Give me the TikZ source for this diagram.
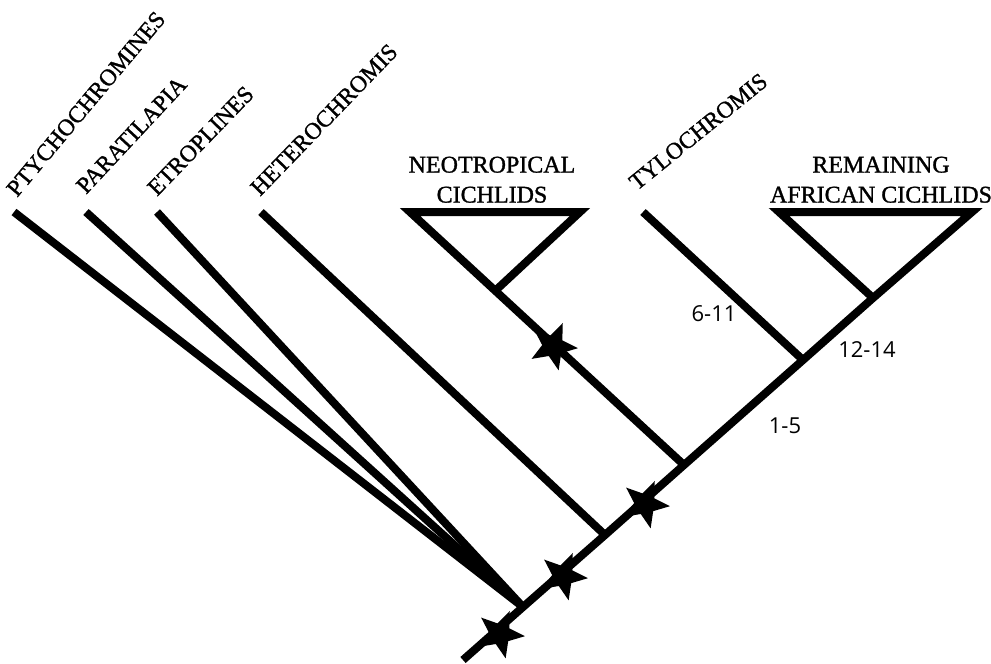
\documentclass[tikz,border=0pt]{standalone}
\usepackage{fontspec}
\setmainfont[FakeBold=1.2]{Liberation Serif}
\newfontfamily\numfont{Open Sans}
\usetikzlibrary{shapes.geometric}
\begin{document}
\begin{tikzpicture}[x=1pt,y=-1pt,
  branch/.style={line width=8pt, line join=miter},
  taxon/.style={font=\fontsize{23.5}{26}\selectfont, inner sep=0pt, anchor=base west},
  clade/.style={font=\fontsize{24}{30}\selectfont, inner sep=0pt, align=center, anchor=south},
  support/.style={font=\numfont\fontsize{22}{24}\selectfont, inner sep=0pt},
  event/.style={star, star points=5, star point ratio=2.3, fill=black, inner sep=0pt, minimum size=50pt, rotate=-23}]
\useasboundingbox (0,0) rectangle (991,664);
% trunk junctions
\coordinate (bot) at (463,660);
\coordinate (root) at (523,607);
\coordinate (hj) at (605,535);
\coordinate (nj) at (684,465);
\coordinate (tj) at (803,360);
\coordinate (aj) at (873,298);
\coordinate (top) at (972,212);
% leaf ends
\coordinate (lPty) at (14,212);
\coordinate (lPar) at (86,212);
\coordinate (lEtr) at (157,212);
\coordinate (lHet) at (261,212);
\coordinate (lTyl) at (643,212);
\coordinate (nl) at (410,212);
\coordinate (nr) at (580,212);
\coordinate (nap) at (495,291);
\coordinate (afl) at (779,212);
% branches
\draw[branch] (bot) -- (root) -- (hj) -- (nj) -- (tj) -- (aj) -- (top) -- (afl) -- (aj);
\draw[branch] (lPty) -- (root);
\draw[branch] (lPar) -- (root);
\draw[branch] (lEtr) -- (root);
\draw[branch] (lHet) -- (hj);
\draw[branch] (nj) -- (nl) -- (nr) -- (nap);
\draw[branch] (lTyl) -- (tj);
% stars
\node[event] (s1) at (500,634) {};
\node[event] (s2) at (563,576) {};
\node[event] (s3) at (645,504) {};
\node[event] (s4) at (553,346) {};
% labels
\node[taxon, rotate=50] (tPty) at (17,198) {PTYCHOCHROMINES};
\node[taxon, rotate=47] (tPar) at (86,195) {PARATILAPIA};
\node[taxon, rotate=46] (tEtr) at (157,197) {ETROPLINES};
\node[taxon, rotate=46] (tHet) at (260,197) {HETEROCHROMIS};
\node[taxon, rotate=39] (tTyl) at (637,191) {TYLOCHROMIS};
\node[clade] (tNeo) at (492,203) {NEOTROPICAL\\CICHLIDS};
\node[clade] (tAfr) at (881,203) {REMAINING\\AFRICAN CICHLIDS};
\node[support] (n611) at (714,314) {6-11};
\node[support] (n15) at (785,426) {1-5};
\node[support] (n1214) at (867,350) {12-14};
\end{tikzpicture}
\end{document}
